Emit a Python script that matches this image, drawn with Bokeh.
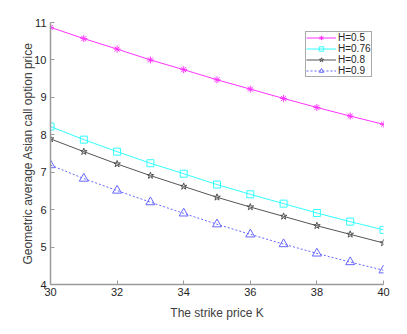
from bokeh.plotting import figure
from bokeh.models import Range1d, FixedTicker, Legend, LegendItem
from bokeh.embed import file_html
from bokeh.resources import INLINE

K = [30, 31, 32, 33, 34, 35, 36, 37, 38, 39, 40]
h05 = [10.87, 10.57, 10.29, 10.00, 9.74, 9.47, 9.22, 8.97, 8.73, 8.50, 8.28]
h076 = [8.22, 7.87, 7.55, 7.24, 6.96, 6.67, 6.41, 6.16, 5.91, 5.68, 5.46]
h08 = [7.89, 7.55, 7.22, 6.91, 6.62, 6.33, 6.07, 5.82, 5.57, 5.34, 5.11]
h09 = [7.19, 6.83, 6.51, 6.20, 5.90, 5.61, 5.34, 5.08, 4.83, 4.60, 4.38]
labels = ["H=0.5", "H=0.76", "H=0.8", "H=0.9"]
x_ticks = [30, 32, 34, 36, 38, 40]
y_ticks = [4, 5, 6, 7, 8, 9, 10, 11]

FONT = "Liberation Sans"

p = figure(width=395, height=322, output_backend="svg", toolbar_location=None,
           x_range=Range1d(30, 40), y_range=Range1d(4, 11),
           min_border_left=50, min_border_right=12, min_border_top=22, min_border_bottom=38)
p.outline_line_color = None
p.grid.visible = False
p.background_fill_color = "white"
p.border_fill_color = "white"

for ax in (p.xaxis[0], p.yaxis[0]):
    ax.axis_line_color = "#9a9a9a"
    ax.axis_line_width = 1.5
    ax.major_tick_line_color = "#9a9a9a"
    ax.major_tick_in = 4
    ax.major_tick_out = 0
    ax.minor_tick_line_color = None
    ax.major_label_text_font = FONT
    ax.major_label_text_font_size = "11px"
    ax.major_label_text_color = "#262626"
    ax.axis_label_text_font = FONT
    ax.axis_label_text_font_size = "12px"
    ax.axis_label_text_font_style = "normal"
    ax.axis_label_text_color = "#404040"

p.xaxis.ticker = FixedTicker(ticks=x_ticks)
p.yaxis.ticker = FixedTicker(ticks=y_ticks)
p.xaxis.axis_label = "The strike price K"
p.yaxis.axis_label = "Geometric average Asian call option price"
p.xaxis.axis_label_standoff = 7
p.yaxis.axis_label_standoff = -4
p.xaxis.major_label_standoff = 3
p.yaxis.major_label_standoff = 4

series = [
    (h05, "#ff33ff", "solid", "asterisk"),
    (h076, "#33ffff", "solid", "square"),
    (h08, "#555555", "solid", "star"),
    (h09, "#6666ff", "2 2", "triangle"),
]
items = []
for (ys, col, dash, mk), lab in zip(series, labels):
    l = p.line(K, ys, line_color=col, line_width=1, line_dash=dash)
    s = p.scatter(K, ys, marker=mk, size=7 if mk != "triangle" else 9,
                  line_color=col, fill_color=None, line_width=1)
    items.append(LegendItem(label=lab, renderers=[l, s]))

legend = Legend(items=items, location=(255, 207))
legend.label_text_font = FONT
legend.label_text_font_size = "10px"
legend.label_text_color = "#262626"
legend.border_line_color = "#555555"
legend.border_line_width = 1
legend.glyph_width = 30
legend.glyph_height = 11
legend.label_height = 11
legend.label_width = 0
legend.spacing = 0
legend.padding = 0
legend.margin = 0
legend.label_standoff = 2
p.add_layout(legend)

open("out.html", "w").write(file_html(p, INLINE))
